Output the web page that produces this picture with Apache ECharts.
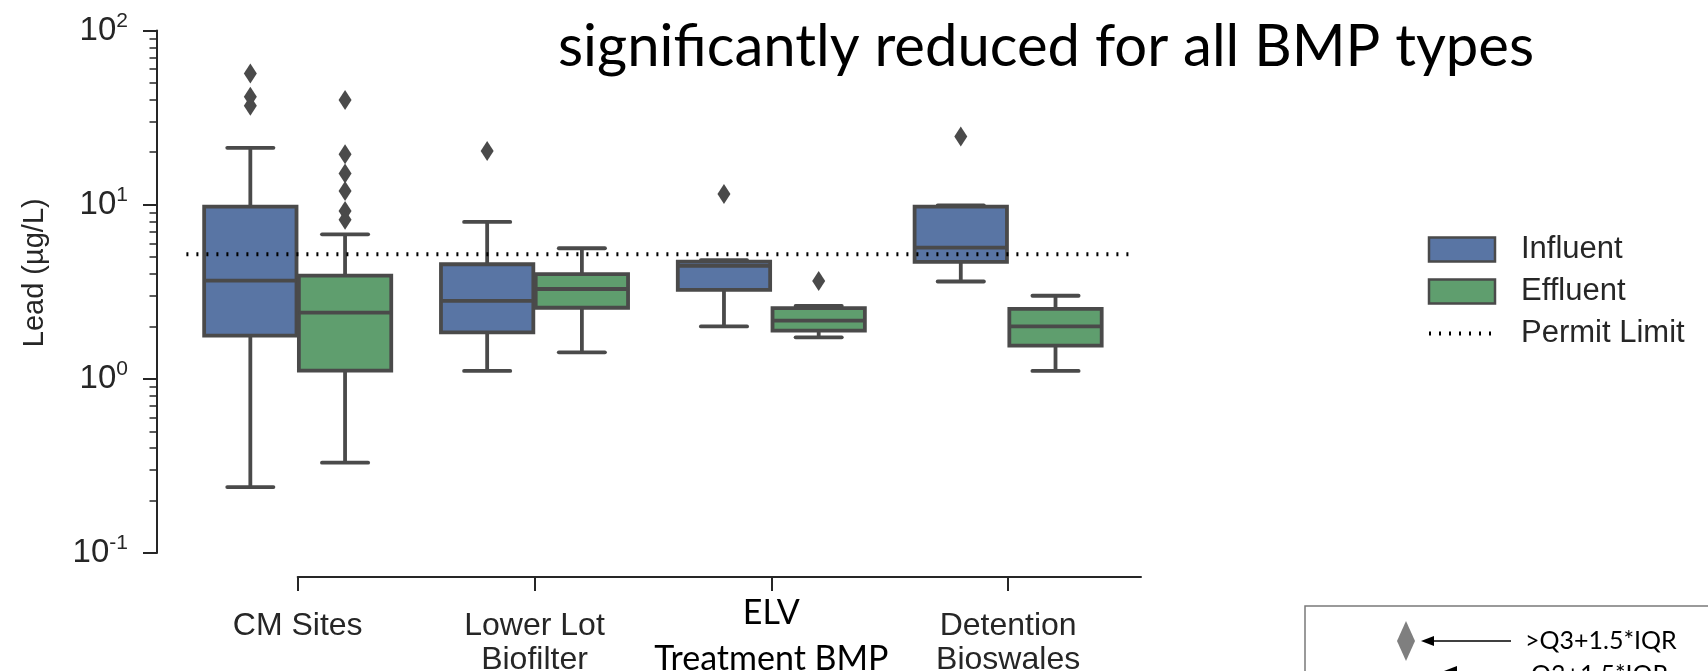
<!DOCTYPE html>
<html><head><meta charset="utf-8">
<script src="https://cdn.jsdelivr.net/npm/echarts@6/dist/echarts.min.js"></script>
<style>html,body{margin:0;padding:0;background:#fff}#c{width:1708px;height:671px}</style>
</head><body><div id="c"></div>
<script>
// ---------------- data ----------------
const categories = ['CM Sites', 'Lower Lot\nBiofilter', 'ELV\nTreatment BMP', 'Detention\nBioswales'];
const seriesNames = ['Influent', 'Effluent', 'Permit Limit'];

const influentLowerWhisker = [0.239, 1.11, 2.0, 3.62];
const influentQ1           = [1.77, 1.85, 3.24, 4.69];
const influentMedian       = [3.66, 2.80, 4.45, 5.66];
const influentQ3           = [9.74, 4.55, 4.71, 9.74];
const influentUpperWhisker = [21.2, 7.96, 4.80, 9.90];
const influentOutliers     = [[56.7, 41.7, 37.0], [20.3], [11.5], [24.6]];

const effluentLowerWhisker = [0.330, 1.42, 1.73, 1.11];
const effluentQ1           = [1.116, 2.56, 1.89, 1.55];
const effluentMedian       = [2.40, 3.28, 2.16, 2.00];
const effluentQ3           = [3.91, 3.99, 2.55, 2.52];
const effluentUpperWhisker = [6.76, 5.62, 2.62, 3.00];
const effluentOutliers     = [[39.9, 19.5, 15.1, 12.0, 9.2, 8.2], [], [3.65], []];

const permitLimit = 5.2;
const permitExtent = [-0.47, 3.53];

const yTickValues = [0.1, 1, 10, 100];
const yMinorTickValues = [0.2,0.3,0.4,0.5,0.6,0.7,0.8,0.9,2,3,4,5,6,7,8,9,20,30,40,50,60,70,80,90];

// ---------------- style ----------------
const BLUE = '#5975a4', GREEN = '#5f9e6e', EDGE = '#4a4a4a', TXT = '#262626';
const hueOffsets = [-0.2, 0.2];
const boxWidth = 0.39, capWidth = 0.195;
const LW = 3.8;
const PERMIT_STYLE = { color: '#000', width: 4, type: [2, 8] };

function boxRows(lo, q1, med, q3, hi) {
  return categories.map((c, i) => [i, lo[i], q1[i], med[i], q3[i], hi[i]]);
}
function outlierPoints(arr, off) {
  const pts = [];
  arr.forEach((vals, i) => vals.forEach(v => pts.push([i + off, v])));
  return pts;
}
function makeRender(offset, fill) {
  return function (params, api) {
    const c = api.value(0) + offset;
    const lo = api.value(1), q1 = api.value(2), med = api.value(3), q3 = api.value(4), hi = api.value(5);
    const x = api.coord([c, q1])[0];
    const w = api.size([boxWidth, 0])[0];
    const cw = api.size([capWidth, 0])[0];
    const y = v => api.coord([c, v])[1];
    const ls = { stroke: EDGE, lineWidth: LW };
    const lsr = { stroke: EDGE, lineWidth: LW, lineCap: 'round' };
    return {
      type: 'group',
      children: [
        { type: 'line', shape: { x1: x, y1: y(q1), x2: x, y2: y(lo) }, style: ls },
        { type: 'line', shape: { x1: x, y1: y(q3), x2: x, y2: y(hi) }, style: ls },
        { type: 'line', shape: { x1: x - cw / 2, y1: y(lo), x2: x + cw / 2, y2: y(lo) }, style: lsr },
        { type: 'line', shape: { x1: x - cw / 2, y1: y(hi), x2: x + cw / 2, y2: y(hi) }, style: lsr },
        { type: 'rect', shape: { x: x - w / 2, y: y(q3), width: w, height: y(q1) - y(q3) },
          style: { fill: fill, stroke: EDGE, lineWidth: LW } },
        { type: 'line', shape: { x1: x - w / 2, y1: y(med), x2: x + w / 2, y2: y(med) }, style: ls }
      ]
    };
  };
}
function renderPermit(params, api) {
  const v = api.value(2);
  const p0 = api.coord([api.value(0), v]);
  const p1 = api.coord([api.value(1), v]);
  return {
    type: 'line',
    shape: { x1: p0[0], y1: p0[1], x2: p1[0], y2: p1[1] },
    style: { stroke: PERMIT_STYLE.color, lineWidth: PERMIT_STYLE.width, lineDash: PERMIT_STYLE.type }
  };
}

const chart = echarts.init(document.getElementById('c'), null, { renderer: 'canvas' });

const xLabelFormatter = function (v) {
  const i = Math.round(v);
  const lines = (categories[i] || '').split('\n');
  if (i === 2) return '{e1|' + lines[0] + '}\n{e2|' + lines[1] + '}';
  return lines.map(s => '{n|' + s + '}').join('\n');
};

const AXIS_X = 157;
const option = {
  animation: false,
  backgroundColor: '#fff',
  title: {
    text: 'significantly reduced for all BMP types',
    left: 553, top: 13,
    textStyle: { fontFamily: 'Lato', fontSize: 58, fontWeight: 'normal', color: '#000' }
  },
  grid: { left: 297.7, right: 567, top: 30.5, bottom: 118, outerBoundsMode: 'none', containLabel: false },
  xAxis: {
    type: 'value', min: 0, max: 3.561,
    offset: 24,
    axisLine: { show: true, onZero: false, lineStyle: { color: TXT, width: 2 } },
    axisTick: { show: true, customValues: [0, 1, 2, 3], length: 14, lineStyle: { color: TXT, width: 2 } },
    splitLine: { show: false },
    axisLabel: {
      show: true, customValues: [0, 1, 2, 3], margin: 32,
      formatter: xLabelFormatter,
      rich: {
        n: { fontFamily: 'Liberation Sans', fontSize: 32, color: TXT, lineHeight: 34 },
        e1: { fontFamily: 'Lato', fontSize: 34, color: '#000', lineHeight: 9 },
        e2: { fontFamily: 'Lato', fontSize: 34, color: '#000', lineHeight: 82 }
      }
    }
  },
  yAxis: [{
    type: 'log', logBase: 10, min: 0.1, max: 100, position: 'left', offset: 297.7 - AXIS_X,
    name: 'Lead (µg/L)', nameLocation: 'middle', nameGap: 108,
    nameTextStyle: { fontFamily: 'Liberation Sans', fontSize: 29, color: TXT, padding: [0, 0, 0, 38] },
    axisLine: { show: true, onZero: false, lineStyle: { color: TXT, width: 2 } },
    axisTick: { show: true, customValues: yTickValues, length: 14, lineStyle: { color: TXT, width: 2 } },
    splitLine: { show: false },
    axisLabel: {
      show: true, customValues: yTickValues, margin: 29,
      formatter: function (v) {
        const e = Math.round(Math.log10(v));
        return '{b|10}{s|' + e + '}';
      },
      rich: {
        b: { fontFamily: 'Liberation Sans', fontSize: 33, color: TXT, lineHeight: 40 },
        s: { fontFamily: 'Liberation Sans', fontSize: 21, color: TXT, lineHeight: 21, verticalAlign: 'top' }
      }
    }
  }, {
    type: 'log', logBase: 10, min: 0.1, max: 100, position: 'left', offset: 297.7 - AXIS_X,
    axisLine: { show: false, onZero: false },
    axisTick: { show: true, customValues: yMinorTickValues, length: 7.5, lineStyle: { color: TXT, width: 1.5 } },
    axisLabel: { show: false },
    splitLine: { show: false }
  }],
  legend: {
    orient: 'vertical', left: 1422, top: 229,
    itemWidth: 66, itemHeight: 24, itemGap: 11,
    textStyle: { fontFamily: 'Liberation Sans', fontSize: 31, color: TXT, padding: [0, 0, 0, 21], lineHeight: 24 },
    data: [
      { name: seriesNames[0], icon: 'rect', itemStyle: { color: BLUE, borderColor: EDGE, borderWidth: 2.5 } },
      { name: seriesNames[1], icon: 'rect', itemStyle: { color: GREEN, borderColor: EDGE, borderWidth: 2.5 } },
      { name: seriesNames[2], itemStyle: { color: 'rgba(0,0,0,0)', borderWidth: 0, opacity: 0 },
        lineStyle: PERMIT_STYLE }
    ]
  },
  series: [
    {
      name: seriesNames[0], type: 'custom', clip: false,
      itemStyle: { color: BLUE, borderColor: EDGE },
      encode: { x: 0, y: [1, 2, 3, 4, 5] },
      renderItem: makeRender(hueOffsets[0], BLUE),
      data: boxRows(influentLowerWhisker, influentQ1, influentMedian, influentQ3, influentUpperWhisker),
      z: 2
    },
    {
      name: seriesNames[1], type: 'custom', clip: false,
      itemStyle: { color: GREEN, borderColor: EDGE },
      encode: { x: 0, y: [1, 2, 3, 4, 5] },
      renderItem: makeRender(hueOffsets[1], GREEN),
      data: boxRows(effluentLowerWhisker, effluentQ1, effluentMedian, effluentQ3, effluentUpperWhisker),
      z: 2
    },
    {
      name: seriesNames[0] + ' outliers', type: 'scatter', clip: false, symbol: 'diamond', symbolSize: [13, 20],
      itemStyle: { color: EDGE, opacity: 1 }, data: outlierPoints(influentOutliers, hueOffsets[0]), z: 3
    },
    {
      name: seriesNames[1] + ' outliers', type: 'scatter', clip: false, symbol: 'diamond', symbolSize: [13, 20],
      itemStyle: { color: EDGE, opacity: 1 }, data: outlierPoints(effluentOutliers, hueOffsets[1]), z: 3
    },
    {
      // legend entry for the permit limit (drawn by the custom series below)
      name: seriesNames[2], type: 'line', symbol: 'none', showSymbol: false,
      itemStyle: { color: '#000' }, lineStyle: PERMIT_STYLE, data: []
    },
    {
      name: seriesNames[2] + ' line', type: 'custom', clip: false,
      encode: { x: [0, 1], y: 2 },
      renderItem: renderPermit,
      data: [[permitExtent[0], permitExtent[1], permitLimit]], z: 5
    }
  ],
  graphic: [
    { type: 'rect', shape: { x: 1305, y: 606, width: 500, height: 120 }, style: { fill: 'none', stroke: '#7a7a7a', lineWidth: 1.5 } },
    { type: 'polygon', shape: { points: [[1406, 621], [1415, 641], [1406, 661], [1397, 641]] }, style: { fill: '#7f7f7f' } },
    { type: 'line', shape: { x1: 1428, y1: 641, x2: 1511, y2: 641 }, style: { stroke: '#000', lineWidth: 1.5 } },
    { type: 'polygon', shape: { points: [[1421, 641], [1434, 636], [1434, 646]] }, style: { fill: '#000' } },
    { type: 'text', style: { text: '>Q3+1.5*IQR', x: 1525, y: 641, verticalAlign: 'middle', font: '25px Lato', fill: '#000' } },
    { type: 'line', shape: { x1: 1378, y1: 672, x2: 1509, y2: 672 }, style: { stroke: '#7f7f7f', lineWidth: 2 } },
    { type: 'polygon', shape: { points: [[1444, 671], [1457, 666], [1457, 676]] }, style: { fill: '#000' } },
    { type: 'text', style: { text: 'Q3+1.5*IQR', x: 1531, y: 675, verticalAlign: 'middle', font: '25px Lato', fill: '#000' } }
  ]
};
chart.setOption(option);
</script>
</body></html>
